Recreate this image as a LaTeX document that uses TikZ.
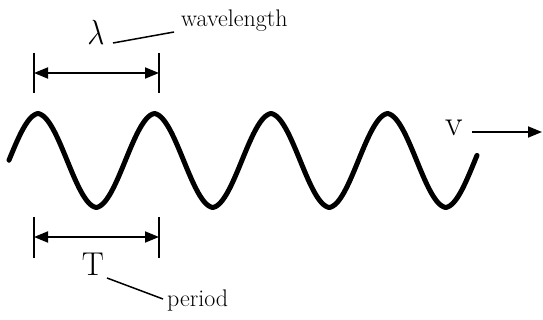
\documentclass[tikz,border=0pt]{standalone}
\usetikzlibrary{arrows.meta}
\begin{document}
\begin{tikzpicture}[x=1pt,y=-1pt,
  wave/.style={line width=5pt,line cap=round,line join=round},
  barline/.style={line width=1.8pt},
  dimarrow/.style={line width=1.8pt,{Triangle[length=14pt,width=11pt]}-{Triangle[length=14pt,width=11pt]}},
  leader/.style={line width=1.5pt},
  lbl/.style={inner sep=0pt,font=\fontsize{24}{28}\selectfont},
  sym/.style={inner sep=0pt,font=\fontsize{34}{38}\selectfont}]
\useasboundingbox (0,0) rectangle (543,320);
% wave
\draw[wave] plot[domain=9:477,samples=300,smooth] (\x,{160.5-47*(0.9*cos(3.0901*(\x-38))+0.1*asin(cos(3.0901*(\x-38)))/90)});
% wavelength dimension
\coordinate (lat) at (34,53); \coordinate (lab) at (34,93);
\coordinate (lbt) at (159,53); \coordinate (lbb) at (159,93);
\coordinate (la) at (34,73); \coordinate (lb) at (159,73);
\draw[barline] (lat) -- (lab);
\draw[barline] (lbt) -- (lbb);
\draw[dimarrow] (la) -- (lb);
\node[inner sep=0pt,font=\fontsize{24}{28}\selectfont] (lam) at (96,32) {\scalebox{1.2}[1.4]{$\lambda$}};
\node[lbl,anchor=west] (wl) at (181,21) {wavelength};
\coordinate (lam1) at (113,43); \coordinate (lam2) at (174,32);
\draw[leader] (lam1) -- (lam2);
% period dimension
\coordinate (pat) at (34,217); \coordinate (pab) at (34,258);
\coordinate (pbt) at (159,217); \coordinate (pbb) at (159,258);
\coordinate (pa) at (34,237); \coordinate (pb) at (159,237);
\draw[barline] (pat) -- (pab);
\draw[barline] (pbt) -- (pbb);
\draw[dimarrow] (pa) -- (pb);
\node[sym,font=\fontsize{33}{36}\selectfont] (T) at (93,264) {T};
\node[lbl,anchor=west] (per) at (167,301) {period};
\coordinate (t1) at (107,278); \coordinate (t2) at (163,299);
\draw[leader] (t1) -- (t2);
% velocity
\node[sym,font=\fontsize{36}{40}\selectfont] (v) at (454,128) {v};
\coordinate (v1) at (472,132); \coordinate (v2) at (542,132);
\draw[line width=1.8pt,-{Triangle[length=14pt,width=11pt]}] (v1) -- (v2);
\end{tikzpicture}
\end{document}
